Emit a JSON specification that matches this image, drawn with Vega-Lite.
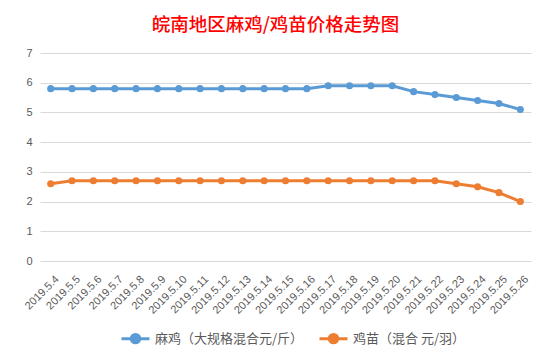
{
  "$schema": "https://vega.github.io/schema/vega-lite/v6.json",
  "width": 491,
  "height": 208,
  "autosize": {"type": "none"},
  "padding": {"left": 40, "top": 53, "right": 18, "bottom": 98},
  "background": "white",
  "title": {
    "text": "皖南地区麻鸡/鸡苗价格走势图",
    "color": "#FF0000",
    "font": "Noto Sans CJK SC",
    "fontSize": 18.5,
    "fontWeight": 500,
    "anchor": "middle",
    "dx": -10,
    "offset": 13
  },
  "data": {
    "values": [
      {"date": "2019.5.4", "series": "麻鸡（大规格混合元/斤）", "price": 5.8},
      {"date": "2019.5.5", "series": "麻鸡（大规格混合元/斤）", "price": 5.8},
      {"date": "2019.5.6", "series": "麻鸡（大规格混合元/斤）", "price": 5.8},
      {"date": "2019.5.7", "series": "麻鸡（大规格混合元/斤）", "price": 5.8},
      {"date": "2019.5.8", "series": "麻鸡（大规格混合元/斤）", "price": 5.8},
      {"date": "2019.5.9", "series": "麻鸡（大规格混合元/斤）", "price": 5.8},
      {"date": "2019.5.10", "series": "麻鸡（大规格混合元/斤）", "price": 5.8},
      {"date": "2019.5.11", "series": "麻鸡（大规格混合元/斤）", "price": 5.8},
      {"date": "2019.5.12", "series": "麻鸡（大规格混合元/斤）", "price": 5.8},
      {"date": "2019.5.13", "series": "麻鸡（大规格混合元/斤）", "price": 5.8},
      {"date": "2019.5.14", "series": "麻鸡（大规格混合元/斤）", "price": 5.8},
      {"date": "2019.5.15", "series": "麻鸡（大规格混合元/斤）", "price": 5.8},
      {"date": "2019.5.16", "series": "麻鸡（大规格混合元/斤）", "price": 5.8},
      {"date": "2019.5.17", "series": "麻鸡（大规格混合元/斤）", "price": 5.9},
      {"date": "2019.5.18", "series": "麻鸡（大规格混合元/斤）", "price": 5.9},
      {"date": "2019.5.19", "series": "麻鸡（大规格混合元/斤）", "price": 5.9},
      {"date": "2019.5.20", "series": "麻鸡（大规格混合元/斤）", "price": 5.9},
      {"date": "2019.5.21", "series": "麻鸡（大规格混合元/斤）", "price": 5.7},
      {"date": "2019.5.22", "series": "麻鸡（大规格混合元/斤）", "price": 5.6},
      {"date": "2019.5.23", "series": "麻鸡（大规格混合元/斤）", "price": 5.5},
      {"date": "2019.5.24", "series": "麻鸡（大规格混合元/斤）", "price": 5.4},
      {"date": "2019.5.25", "series": "麻鸡（大规格混合元/斤）", "price": 5.3},
      {"date": "2019.5.26", "series": "麻鸡（大规格混合元/斤）", "price": 5.1},
      {"date": "2019.5.4", "series": "鸡苗（混合 元/羽）", "price": 2.6},
      {"date": "2019.5.5", "series": "鸡苗（混合 元/羽）", "price": 2.7},
      {"date": "2019.5.6", "series": "鸡苗（混合 元/羽）", "price": 2.7},
      {"date": "2019.5.7", "series": "鸡苗（混合 元/羽）", "price": 2.7},
      {"date": "2019.5.8", "series": "鸡苗（混合 元/羽）", "price": 2.7},
      {"date": "2019.5.9", "series": "鸡苗（混合 元/羽）", "price": 2.7},
      {"date": "2019.5.10", "series": "鸡苗（混合 元/羽）", "price": 2.7},
      {"date": "2019.5.11", "series": "鸡苗（混合 元/羽）", "price": 2.7},
      {"date": "2019.5.12", "series": "鸡苗（混合 元/羽）", "price": 2.7},
      {"date": "2019.5.13", "series": "鸡苗（混合 元/羽）", "price": 2.7},
      {"date": "2019.5.14", "series": "鸡苗（混合 元/羽）", "price": 2.7},
      {"date": "2019.5.15", "series": "鸡苗（混合 元/羽）", "price": 2.7},
      {"date": "2019.5.16", "series": "鸡苗（混合 元/羽）", "price": 2.7},
      {"date": "2019.5.17", "series": "鸡苗（混合 元/羽）", "price": 2.7},
      {"date": "2019.5.18", "series": "鸡苗（混合 元/羽）", "price": 2.7},
      {"date": "2019.5.19", "series": "鸡苗（混合 元/羽）", "price": 2.7},
      {"date": "2019.5.20", "series": "鸡苗（混合 元/羽）", "price": 2.7},
      {"date": "2019.5.21", "series": "鸡苗（混合 元/羽）", "price": 2.7},
      {"date": "2019.5.22", "series": "鸡苗（混合 元/羽）", "price": 2.7},
      {"date": "2019.5.23", "series": "鸡苗（混合 元/羽）", "price": 2.6},
      {"date": "2019.5.24", "series": "鸡苗（混合 元/羽）", "price": 2.5},
      {"date": "2019.5.25", "series": "鸡苗（混合 元/羽）", "price": 2.3},
      {"date": "2019.5.26", "series": "鸡苗（混合 元/羽）", "price": 2.0}
    ]
  },
  "encoding": {
    "x": {
      "field": "date",
      "type": "ordinal",
      "sort": null,
      "scale": {"type": "point", "padding": 0.5},
      "axis": {
        "title": null,
        "labelAngle": -45,
        "labelFontSize": 11,
        "labelColor": "#595959",
        "labelFont": "Liberation Sans",
        "ticks": false,
        "domain": false,
        "labelPadding": 12,
        "labelOffset": 2
      }
    },
    "y": {
      "field": "price",
      "type": "quantitative",
      "scale": {"domain": [0, 7]},
      "axis": {
        "title": null,
        "tickCount": 8,
        "values": [0, 1, 2, 3, 4, 5, 6, 7],
        "ticks": false,
        "domain": false,
        "gridColor": "#D9D9D9",
        "gridWidth": 1,
        "labelColor": "#595959",
        "labelFontSize": 11,
        "labelFont": "Liberation Sans",
        "labelPadding": 8
      }
    },
    "color": {
      "field": "series",
      "type": "nominal",
      "sort": null,
      "scale": {"range": ["#5B9BD5", "#ED7D31"]},
      "legend": {
        "title": null,
        "orient": "none",
        "direction": "horizontal",
        "legendX": 80,
        "legendY": 270,
        "padding": 0,
        "symbolType": "M -1 0 L 1 0 M -0.3 0 A 0.3 0.3 0 1 1 0.3 0 A 0.3 0.3 0 1 1 -0.3 0",
        "symbolSize": 784,
        "symbolStrokeWidth": 3,
        "labelFont": "Noto Sans CJK SC",
        "labelFontSize": 13,
        "labelColor": "#595959",
        "labelOffset": 4,
        "columnPadding": 9
      }
    }
  },
  "layer": [
    {"mark": {"type": "line", "strokeWidth": 3}},
    {"mark": {"type": "circle", "size": 50, "opacity": 1}}
  ],
  "config": {
    "view": {"stroke": null}
  }
}
